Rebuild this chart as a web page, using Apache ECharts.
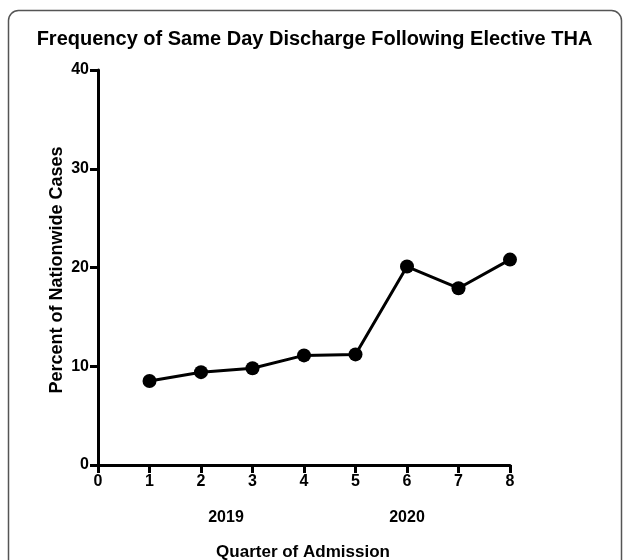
<!DOCTYPE html>
<html><head><meta charset="utf-8">
<script src="https://cdn.jsdelivr.net/npm/echarts@6/dist/echarts.min.js"></script>
<style>html,body{margin:0;padding:0;background:#fff}#c{width:629px;height:560px}</style>
</head><body><div id="c"></div>
<script>
const quarters = [1, 2, 3, 4, 5, 6, 7, 8];
const percentValues = [8.5, 9.4, 9.8, 11.1, 11.2, 20.1, 17.9, 20.8];
const yearLabels = ['2019', '2020'];
const titleText = 'Frequency of Same Day Discharge Following Elective THA';
const xName = 'Quarter of Admission';
const yName = 'Percent of Nationwide Cases';

const FONT = '"Liberation Sans", Arial, Helvetica, sans-serif';
const chart = echarts.init(document.getElementById('c'), null, {renderer: 'canvas'});
chart.setOption({
  animation: false,
  backgroundColor: '#fff',
  title: {
    text: titleText, left: 'center', top: 24,
    textStyle: {fontFamily: FONT, fontWeight: 'bold', fontSize: 20, color: '#000'}
  },
  grid: {left: 98, right: 119, top: 70, bottom: 95},
  xAxis: {
    type: 'value', min: 0, max: 8, interval: 1,
    axisLine: {lineStyle: {color: '#000', width: 3}},
    axisTick: {length: 8, lineStyle: {color: '#000', width: 3}},
    axisLabel: {fontFamily: FONT, fontWeight: 'bold', fontSize: 16, color: '#000', margin: 9},
    splitLine: {show: false}
  },
  yAxis: {
    type: 'value', min: 0, max: 40, interval: 10,
    axisLine: {show: true, lineStyle: {color: '#000', width: 3}},
    axisTick: {show: true, length: 8, lineStyle: {color: '#000', width: 3}},
    axisLabel: {fontFamily: FONT, fontWeight: 'bold', fontSize: 16, color: '#000', margin: 9},
    splitLine: {show: false}
  },
  series: [{
    type: 'line',
    data: quarters.map((q, i) => [q, percentValues[i]]),
    symbol: 'circle', symbolSize: 14,
    itemStyle: {color: '#000'},
    lineStyle: {color: '#000', width: 3}
  }],
  graphic: [
    {type: 'rect', shape: {x: 8.5, y: 10.5, width: 613, height: 600, r: 10},
     style: {fill: 'none', stroke: '#555', lineWidth: 1.5}, z: -1},
    {type: 'text', x: 226, y: 518, style: {text: yearLabels[0], fontFamily: FONT, fontWeight: 'bold', fontSize: 16, fill: '#000', textAlign: 'center', textVerticalAlign: 'middle'}},
    {type: 'text', x: 407, y: 518, style: {text: yearLabels[1], fontFamily: FONT, fontWeight: 'bold', fontSize: 16, fill: '#000', textAlign: 'center', textVerticalAlign: 'middle'}},
    {type: 'text', x: 303, y: 552, style: {text: xName, fontFamily: FONT, fontWeight: 'bold', fontSize: 17, fill: '#000', textAlign: 'center', textVerticalAlign: 'middle'}},
    {type: 'text', x: 57, y: 270, rotation: Math.PI / 2, style: {text: yName, fontFamily: FONT, fontWeight: 'bold', fontSize: 18, fill: '#000', textAlign: 'center', textVerticalAlign: 'middle'}}
  ]
});
</script></body></html>
